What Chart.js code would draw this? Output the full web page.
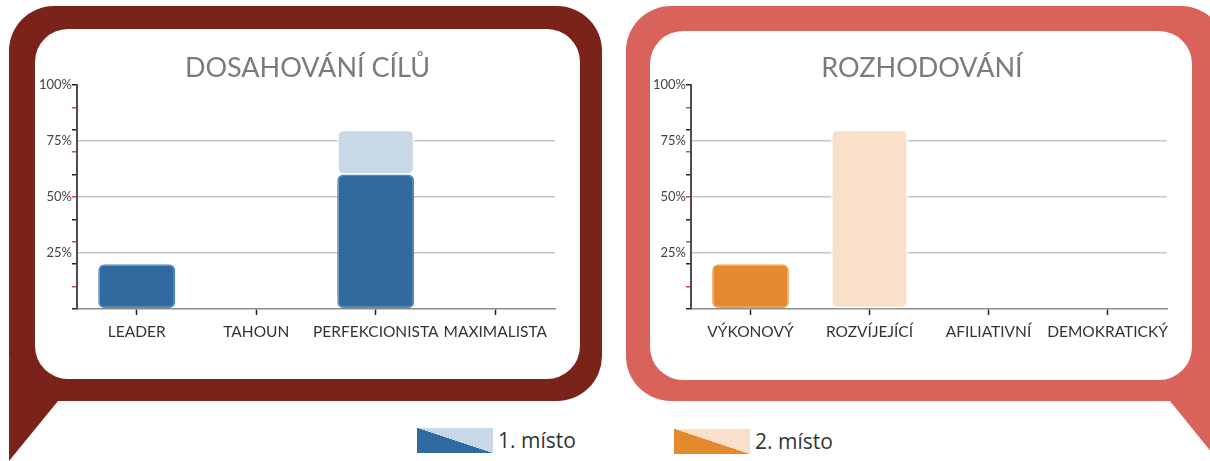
<!DOCTYPE html>
<html>
<head>
<meta charset="utf-8">
<script src="https://cdn.jsdelivr.net/npm/chart.js@4.4.1/dist/chart.umd.min.js"></script>
<style>
  html, body { margin:0; padding:0; background:#fff; }
  body { width:1210px; height:461px; position:relative; overflow:hidden; font-family: Lato, "Open Sans", sans-serif; }
  svg.bg { position:absolute; left:0; top:0; }
  .chartbox { position:absolute; }
  .legend { position:absolute; display:flex; align-items:center; font-family: "Open Sans", Lato, sans-serif; font-size:21px; color:#333; }
  .sw { width:76px; height:25px; margin-right:5px; }
</style>
</head>
<body>
<svg class="bg" width="1210" height="461" viewBox="0 0 1210 461">
  <!-- left bubble -->
  <rect x="9" y="6" width="593" height="395" rx="45" ry="45" fill="#7a231a"/>
  <polygon points="9,360 75,360 58,401 9,461" fill="#7a231a"/>
  <rect x="35" y="29" width="545" height="350" rx="33" ry="33" fill="#ffffff"/>
  <!-- right bubble -->
  <rect x="626" y="6" width="600" height="395" rx="45" ry="45" fill="#d9625a"/>
  <polygon points="1140,360 1212,360 1212,453 1170,401" fill="#d9625a"/>
  <rect x="650" y="31" width="542" height="349" rx="33" ry="33" fill="#ffffff"/>
</svg>

<div class="chartbox" style="left:35px; top:29px; width:545px; height:350px;"><canvas id="c1"></canvas></div>
<div class="chartbox" style="left:652px; top:31px; width:540px; height:349px;"><canvas id="c2"></canvas></div>

<div class="legend" style="left:417px; top:426px;"><div class="sw" style="background:linear-gradient(to top right, #306a9e 50%, #c8d8e6 50%);"></div><span>1. místo</span></div>
<div class="legend" style="left:674px; top:427px;"><div class="sw" style="background:linear-gradient(to top right, #e38a2f 50%, #f8e0ca 50%);"></div><span>2. místo</span></div>

<script>
// ---- data ----
const goalCategories = ["LEADER", "TAHOUN", "PERFEKCIONISTA", "MAXIMALISTA"];
const goalDark  = [20, 0, 60, 0];
const goalLight = [0, 0, 20, 0];

const decisionCategories = ["VÝKONOVÝ", "ROZVÍJEJÍCÍ", "AFILIATIVNÍ", "DEMOKRATICKÝ"];
const decisionDark  = [20, 0, 0, 0];
const decisionLight = [0, 80, 0, 0];

const yTickValues  = [0, 10, 20, 25, 30, 40, 50, 60, 70, 75, 80, 90, 100];
const yLabelValues = [25, 50, 75, 100];
const gridValues   = [25, 50, 75];
const majorTicks   = [0, 20, 40, 60, 80, 100];
const minorTicks   = [10, 30, 50, 70, 90];

function makeChart(id, title, labels, dark, light, cfg) {
  const radius = {topLeft:6, topRight:6, bottomLeft:6, bottomRight:6};
  return new Chart(document.getElementById(id), {
    type: 'bar',
    data: {
      labels: labels,
      datasets: [
        { label: 'dark', data: dark, backgroundColor: cfg.dark, borderColor: cfg.darkBorder,
          borderWidth: c => c.raw ? 1.5 : 0, borderRadius: radius, borderSkipped: false,
          barPercentage: 0.645, categoryPercentage: 1, yAxisID: 'y' },
        { label: 'light', data: light, backgroundColor: cfg.light, borderColor: '#ffffff',
          borderWidth: c => c.raw ? 1.5 : 0, borderRadius: radius, borderSkipped: false,
          barPercentage: 0.645, categoryPercentage: 1, yAxisID: 'y' }
      ]
    },
    options: {
      responsive: true,
      maintainAspectRatio: false,
      animation: false,
      layout: { padding: 0 },
      plugins: {
        legend: { display: false },
        tooltip: { enabled: false },
        title: { display: true, text: title, color: '#7b7b7b',
          font: { family: 'Lato', size: 27, weight: 'normal' },
          padding: { top: cfg.titleTop, bottom: cfg.titleBottom } }
      },
      scales: {
        x: {
          stacked: true,
          afterFit: s => { s.height = cfg.xHeight; },
          border: { display: true, color: '#8c8c8c', width: 1.5 },
          grid: { offset: false, drawOnChartArea: false, drawTicks: true, tickLength: 6, tickColor: '#222', tickWidth: 1.5 },
          ticks: { font: { family: 'Lato', size: 15.5 }, color: '#333', padding: 8, maxRotation: 0, autoSkip: false }
        },
        y: {
          stacked: true,
          position: 'left',
          min: 0, max: 100,
          afterBuildTicks: s => { s.ticks = yTickValues.map(v => ({ value: v })); },
          afterFit: s => { s.width = cfg.yWidth; },
          border: { display: true, color: '#4d4d4d', width: 2 },
          grid: {
            drawOnChartArea: true,
            color: c => gridValues.includes(c.tick && c.tick.value) ? '#c6c6c6' : 'rgba(0,0,0,0)',
            lineWidth: 1.5,
            tickLength: 5,
            tickWidth: 1.5,
            tickColor: c => {
              const v = c.tick && c.tick.value;
              if (majorTicks.includes(v)) return '#222';
              if (minorTicks.includes(v)) return '#e8413a';
              return 'rgba(0,0,0,0)';
            }
          },
          ticks: { autoSkip: false, padding: 0, color: '#444', font: { family: 'Lato', size: 13 },
            callback: v => yLabelValues.includes(v) ? v + '%' : '' }
        },
        spacer: {
          type: 'linear',
          axis: 'y',
          position: 'right',
          display: true,
          min: 0, max: 100,
          afterFit: s => { s.width = cfg.padRight; },
          grid: { display: false },
          border: { display: false },
          ticks: { display: false }
        }
      }
    }
  });
}

makeChart('c1', 'DOSAHOVÁNÍ CÍLŮ', goalCategories, goalDark, goalLight,
  { dark: '#306a9e', darkBorder: '#4f8bc2', light: '#c8d8e6', padRight: 25, titleTop: 23, titleBottom: 0.5, xHeight: 70, yWidth: 42 });
makeChart('c2', 'ROZHODOVÁNÍ', decisionCategories, decisionDark, decisionLight,
  { dark: '#e38a2f', darkBorder: '#f0a24f', light: '#f8e0ca', padRight: 25, titleTop: 21, titleBottom: 0.5, xHeight: 71, yWidth: 39 });
</script>
</body>
</html>
